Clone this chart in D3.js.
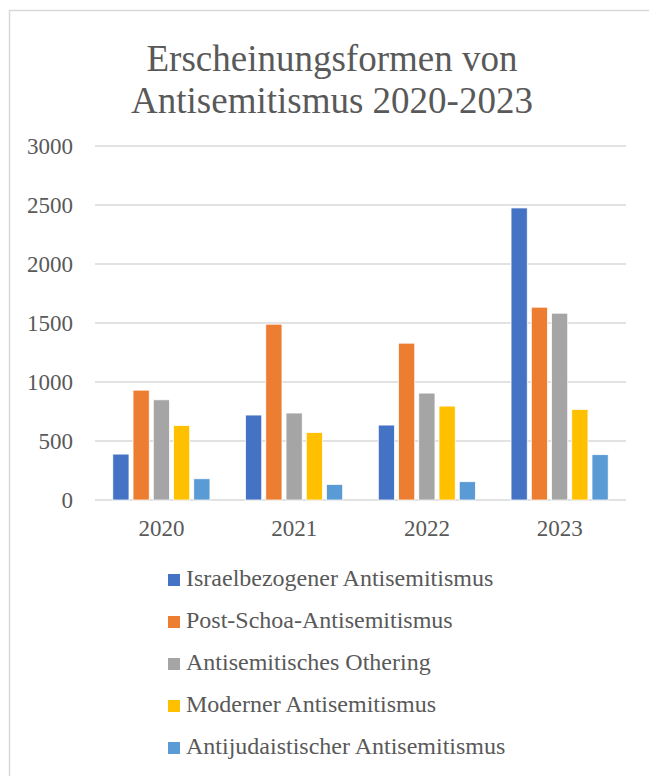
<!DOCTYPE html>
<html>
<head>
<meta charset="utf-8">
<script src="https://cdn.jsdelivr.net/npm/d3@7"></script>
<style>
  body { margin: 0; background: #fff; }
  text { font-family: "Liberation Serif", "Times New Roman", serif; fill: #595959; }
</style>
</head>
<body>
<div id="chart"></div>
<script>
var years = ["2020", "2021", "2022", "2023"];
var seriesNames = ["Israelbezogener Antisemitismus", "Post-Schoa-Antisemitismus",
  "Antisemitisches Othering", "Moderner Antisemitismus", "Antijudaistischer Antisemitismus"];
var israelbezogen = [389, 720, 635, 2475];
var postSchoa = [931, 1490, 1329, 1634];
var othering = [849, 737, 906, 1583];
var modern = [632, 572, 796, 767];
var antijudaistisch = [180, 132, 155, 384];
var yTicks = [0, 500, 1000, 1500, 2000, 2500, 3000];
var colors = ["#4472c4", "#ed7d31", "#a5a5a5", "#ffc000", "#5b9bd5"];

var allSeries = [israelbezogen, postSchoa, othering, modern, antijudaistisch];

var W = 649, H = 776;
var margin = {top: 146, right: 23, bottom: 276, left: 95};
var width = W - margin.left - margin.right,
    height = H - margin.top - margin.bottom;

var svg = d3.select("#chart").append("svg")
    .attr("width", W)
    .attr("height", H);

// chart frame
svg.append("rect")
    .attr("x", 9.5).attr("y", 10.5)
    .attr("width", W + 20).attr("height", H + 20)
    .attr("fill", "none")
    .attr("stroke", "#d9d9d9")
    .attr("stroke-width", 1.5);

// title
var title = svg.append("text")
    .attr("text-anchor", "middle")
    .style("font-size", "37px");
title.append("tspan").attr("x", 332).attr("y", 71).text("Erscheinungsformen von");
title.append("tspan").attr("x", 332).attr("y", 113).text("Antisemitismus 2020-2023");

var g = svg.append("g")
    .attr("transform", "translate(" + margin.left + "," + margin.top + ")");

var y = d3.scaleLinear().domain([0, 3000]).range([height, 0]);
var x0 = d3.scaleBand().domain(years).range([0, width]);
var pad = 17.8;
var x1 = d3.scaleBand().domain(d3.range(seriesNames.length))
    .range([pad, x0.bandwidth() - pad]).paddingInner(0.2);

// gridlines
g.selectAll(".grid")
  .data(yTicks)
  .enter().append("line")
    .attr("class", "grid")
    .attr("x1", 0).attr("x2", width)
    .attr("y1", function(d) { return y(d); })
    .attr("y2", function(d) { return y(d); })
    .attr("stroke", "#d9d9d9")
    .attr("stroke-width", 1.3);

// y labels
g.selectAll(".ylab")
  .data(yTicks)
  .enter().append("text")
    .attr("class", "ylab")
    .attr("x", -22)
    .attr("y", function(d) { return y(d); })
    .attr("dy", "0.33em")
    .attr("text-anchor", "end")
    .style("font-size", "23px")
    .text(function(d) { return d; });

// x labels
g.selectAll(".xlab")
  .data(years)
  .enter().append("text")
    .attr("class", "xlab")
    .attr("x", function(d) { return x0(d) + x0.bandwidth() / 2; })
    .attr("y", height + 36)
    .attr("text-anchor", "middle")
    .style("font-size", "23px")
    .text(function(d) { return d; });

// bars
var groups = g.selectAll(".year")
  .data(years)
  .enter().append("g")
    .attr("class", "year")
    .attr("transform", function(d) { return "translate(" + x0(d) + ",0)"; });

groups.selectAll("rect")
  .data(function(d, i) {
    return allSeries.map(function(s, k) { return {k: k, value: s[i]}; });
  })
  .enter().append("rect")
    .attr("x", function(d) { return x1(d.k); })
    .attr("y", function(d) { return y(d.value); })
    .attr("width", x1.bandwidth())
    .attr("height", function(d) { return height - y(d.value); })
    .attr("fill", function(d) { return colors[d.k]; })
    .attr("stroke", "#fff")
    .attr("stroke-width", 0.75);

// legend
var legend = svg.selectAll(".legend")
  .data(seriesNames)
  .enter().append("g")
    .attr("class", "legend")
    .attr("transform", function(d, i) { return "translate(168," + (574 + i * 42) + ")"; });

legend.append("rect")
    .attr("width", 12).attr("height", 12)
    .attr("fill", function(d, i) { return colors[i]; });

legend.append("text")
    .attr("x", 18)
    .attr("y", 12)
    .style("font-size", "24px")
    .text(function(d) { return d; });
</script>
</body>
</html>
